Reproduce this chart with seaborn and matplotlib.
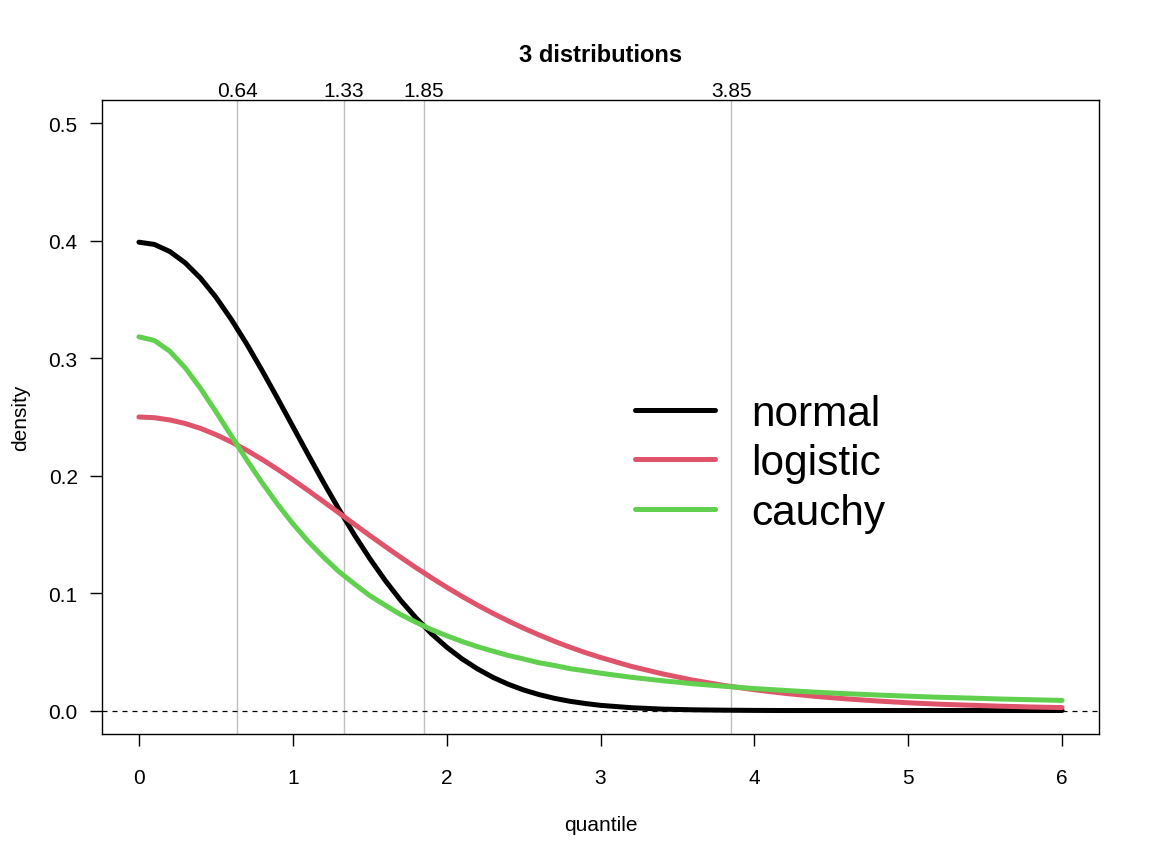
import matplotlib
matplotlib.use("Agg")
import matplotlib.pyplot as plt
import matplotlib.transforms as mtransforms
import pandas as pd
import seaborn as sns

# values (step 0.1 up to 3, then 0.2)
quantile = [0.0, 0.1, 0.2, 0.3, 0.4, 0.5, 0.6, 0.7, 0.8, 0.9, 1.0, 1.1, 1.2, 1.3, 1.4, 1.5,
            1.6, 1.7, 1.8, 1.9, 2.0, 2.1, 2.2, 2.3, 2.4, 2.5, 2.6, 2.7, 2.8, 2.9, 3.0,
            3.2, 3.4, 3.6, 3.8, 4.0, 4.2, 4.4, 4.6, 4.8, 5.0, 5.2, 5.4, 5.6, 5.8, 6.0]
normal = [0.3989, 0.3970, 0.3910, 0.3814, 0.3683, 0.3521, 0.3332, 0.3123, 0.2897, 0.2661,
          0.2420, 0.2179, 0.1942, 0.1714, 0.1497, 0.1295, 0.1109, 0.0940, 0.0790, 0.0656,
          0.0540, 0.0440, 0.0355, 0.0283, 0.0224, 0.0175, 0.0136, 0.0104, 0.0079, 0.0060,
          0.0044, 0.0024, 0.0012, 0.0006, 0.0003, 0.0001, 0.0, 0.0, 0.0, 0.0,
          0.0, 0.0, 0.0, 0.0, 0.0, 0.0]
logistic = [0.2500, 0.2494, 0.2475, 0.2445, 0.2403, 0.2350, 0.2288, 0.2217, 0.2139, 0.2055,
            0.1966, 0.1874, 0.1779, 0.1683, 0.1587, 0.1491, 0.1398, 0.1306, 0.1217, 0.1132,
            0.1050, 0.0972, 0.0898, 0.0828, 0.0763, 0.0701, 0.0644, 0.0590, 0.0540, 0.0494,
            0.0452, 0.0376, 0.0313, 0.0259, 0.0214, 0.0177, 0.0146, 0.0120, 0.0099, 0.0081,
            0.0066, 0.0054, 0.0045, 0.0037, 0.0030, 0.0025]
cauchy = [0.3183, 0.3152, 0.3061, 0.2920, 0.2744, 0.2546, 0.2341, 0.2136, 0.1941, 0.1759,
          0.1592, 0.1440, 0.1306, 0.1183, 0.1079, 0.0979, 0.0897, 0.0818, 0.0752, 0.0690,
          0.0637, 0.0588, 0.0544, 0.0506, 0.0469, 0.0439, 0.0407, 0.0384, 0.0357, 0.0338,
          0.0318, 0.0283, 0.0254, 0.0228, 0.0207, 0.0187, 0.0171, 0.0156, 0.0143, 0.0132,
          0.0122, 0.0113, 0.0106, 0.0098, 0.0092, 0.0086]
crossings = [0.64, 1.33, 1.85, 3.85]
crossing_labels = ["0.64", "1.33", "1.85", "3.85"]
series_names = ["normal", "logistic", "cauchy"]
colors = ["#000000", "#DF536B", "#61D04F"]

df = pd.DataFrame({"quantile": quantile, "normal": normal, "logistic": logistic, "cauchy": cauchy})
long = df.melt(id_vars="quantile", var_name="dist", value_name="density")

sns.set_style("ticks")
plt.rcParams["font.family"] = ["Liberation Sans", "DejaVu Sans"]
plt.rcParams.update({"text.color": "black", "axes.labelcolor": "black",
                     "xtick.color": "black", "ytick.color": "black"})

fig = plt.figure(figsize=(11.51, 8.62), dpi=100)
ax = fig.add_axes([102 / 1151, 1 - 735 / 862, 997 / 1151, 634 / 862])

for x in crossings:
    ax.axvline(x, color="#BEBEBE", lw=1.0, zorder=1)
ax.axhline(0, color="black", lw=0.9, ls=(0, (4, 4)), zorder=1)

sns.lineplot(data=long, x="quantile", y="density", hue="dist", hue_order=series_names,
             palette=colors, lw=3.6, ax=ax, zorder=3)

ax.set_xlim(-0.24, 6.24)
ax.set_ylim(-0.02, 0.52)
ax.set_xticks([0, 1, 2, 3, 4, 5, 6])
ax.set_yticks([0.0, 0.1, 0.2, 0.3, 0.4, 0.5])
ax.set_yticklabels(["0.0", "0.1", "0.2", "0.3", "0.4", "0.5"])
ax.tick_params(axis="both", direction="out", length=8.5, width=1, labelsize=15)
ax.tick_params(axis="x", pad=16)
ax.tick_params(axis="y", pad=9)
for s in ax.spines.values():
    s.set_visible(True)
    s.set_linewidth(1.0)
    s.set_color("black")

trans = mtransforms.blended_transform_factory(ax.transData, ax.transAxes)
for x, lab in zip(crossings, crossing_labels):
    ax.text(x, 0.0, lab, transform=trans, ha="center", va="bottom", fontsize=15,
            clip_on=False)
# nudge the crossing labels just above the frame
for t in ax.texts:
    t.set_y(1.0)

ax.set_title("3 distributions", fontsize=17, fontweight="bold", pad=28)
ax.set_xlabel("quantile", fontsize=15, labelpad=20)
ax.set_ylabel("density", fontsize=15, labelpad=13)

handles, labels = ax.get_legend_handles_labels()
ax.legend(handles, labels, frameon=False, fontsize=30.5, loc="center left",
          bbox_to_anchor=(0.5346, 0.427), handlelength=1.9, handletextpad=0.85,
          labelspacing=0.22, borderpad=0, borderaxespad=0)

fig.savefig("out.png", dpi=100)
